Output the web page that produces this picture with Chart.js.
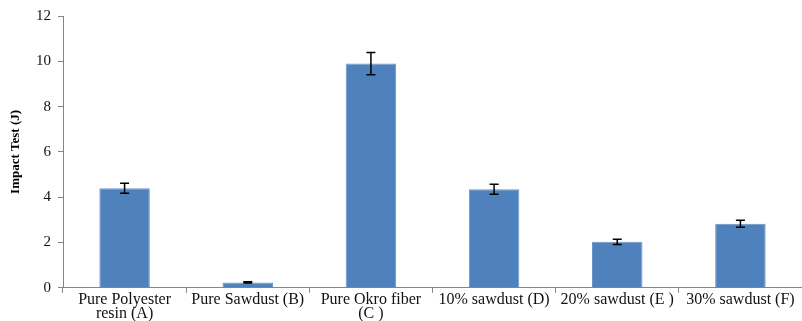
<!DOCTYPE html>
<html>
<head>
<meta charset="utf-8">
<script src="https://cdn.jsdelivr.net/npm/chart.js@4/dist/chart.umd.min.js"></script>
<style>
  html, body { margin: 0; padding: 0; background: #ffffff; }
  #wrap { width: 802px; height: 321px; position: relative; }
</style>
</head>
<body>
<div id="wrap"><canvas id="chart"></canvas></div>
<script>
// Impact test results per sample
const categories = [
  ["Pure Polyester", "resin (A)"],
  "Pure Sawdust (B)",
  ["Pure Okro fiber", "(C )"],
  "10% sawdust (D)",
  "20% sawdust (E )",
  "30% sawdust (F)"
];
const impactValues = [4.4, 0.24, 9.9, 4.35, 2.03, 2.83];
const impactErrors = [0.22, 0.03, 0.49, 0.22, 0.12, 0.15];
const yTicks = [0, 2, 4, 6, 8, 10, 12];

const serif = "'Liberation Serif', 'Times New Roman', serif";

// Draws symmetric error bars on top of each bar using the chart's own scales
const errorBars = {
  id: 'errorBars',
  afterDatasetsDraw(chart) {
    const { ctx, scales } = chart;
    const meta = chart.getDatasetMeta(0);
    ctx.save();
    ctx.strokeStyle = '#000000';
    ctx.lineWidth = 1.5;
    meta.data.forEach((bar, i) => {
      const v = impactValues[i], e = impactErrors[i];
      const x = bar.x;
      const yTop = scales.y.getPixelForValue(v + e);
      const yBot = scales.y.getPixelForValue(v - e);
      const cap = 4.5;
      ctx.beginPath();
      ctx.moveTo(x, yTop); ctx.lineTo(x, yBot);
      ctx.moveTo(x - cap, yTop); ctx.lineTo(x + cap, yTop);
      ctx.moveTo(x - cap, yBot); ctx.lineTo(x + cap, yBot);
      ctx.stroke();
    });
    ctx.restore();
  }
};

new Chart(document.getElementById('chart'), {
  type: 'bar',
  data: {
    labels: categories,
    datasets: [{
      data: impactValues,
      backgroundColor: '#4F81BD',
      borderColor: '#6A93C8',
      borderWidth: 1,
      categoryPercentage: 1.0,
      barPercentage: 0.41
    }]
  },
  options: {
    responsive: true,
    maintainAspectRatio: false,
    animation: false,
    layout: { padding: { top: 9, right: 0, bottom: 0, left: 0 } },
    plugins: {
      legend: { display: false },
      tooltip: { enabled: false }
    },
    scales: {
      x: {
        offset: true,
        grid: {
          offset: true,
          display: true,
          drawOnChartArea: false,
          drawTicks: true,
          tickLength: 5,
          color: '#868686'
        },
        border: { display: true, color: '#868686', width: 1 },
        ticks: {
          autoSkip: false,
          maxRotation: 0,
          minRotation: 0,
          padding: 0,
          color: '#111111',
          font: { family: serif, size: 16, lineHeight: 0.88 }
        }
      },
      y: {
        min: 0,
        max: 12,
        afterBuildTicks(scale) {
          scale.ticks = yTicks.map(v => ({ value: v }));
        },
        afterFit(scale) { scale.width = 63; },
        grid: {
          display: true,
          drawOnChartArea: false,
          drawTicks: true,
          tickLength: 5,
          color: '#868686'
        },
        border: { display: true, color: '#868686', width: 1 },
        ticks: {
          padding: 7,
          color: '#111111',
          font: { family: serif, size: 15 }
        },
        title: {
          display: true,
          text: 'Impact Test (J)',
          color: '#000000',
          padding: { top: 8, bottom: 0 },
          font: { family: serif, size: 13, weight: 'bold' }
        }
      }
    }
  },
  plugins: [errorBars]
});
</script>
</body>
</html>
